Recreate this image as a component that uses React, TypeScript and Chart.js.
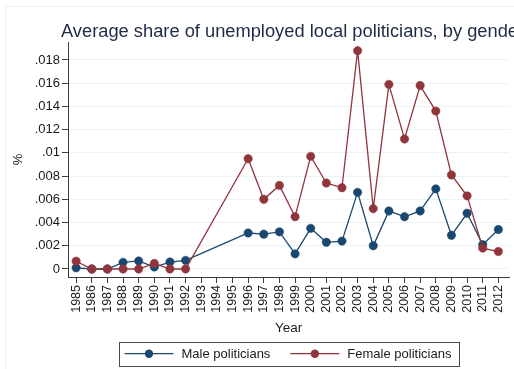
import React, { useEffect, useRef } from 'react';
import { Chart, registerables } from 'chart.js';

Chart.register(...registerables);

// ---- data ----
const TITLE = 'Average share of unemployed local politicians, by gender';
const X_TITLE = 'Year';
const Y_TITLE = '%';

const years = [
  1985, 1986, 1987, 1988, 1989, 1990, 1991, 1992, 1993, 1994, 1995, 1996, 1997, 1998,
  1999, 2000, 2001, 2002, 2003, 2004, 2005, 2006, 2007, 2008, 2009, 2010, 2011, 2012,
];

const maleShare = [
  0.0001, 0, 0, 0.00057, 0.00069, 0.00017, 0.0006, 0.00074, null, null, null, 0.0031, 0.003, 0.0032,
  0.0013, 0.0035, 0.0023, 0.0024, 0.0066, 0.002, 0.005, 0.0045, 0.005, 0.0069, 0.0029, 0.0048, 0.0021, 0.0034,
];

const femaleShare = [
  0.00067, 0, 0, 0, 0, 0.00048, 0, 0, null, null, null, 0.0095, 0.006, 0.0072,
  0.0045, 0.0097, 0.0074, 0.007, 0.0188, 0.0052, 0.0159, 0.0112, 0.0158, 0.0136, 0.0081, 0.0063, 0.0018, 0.0015,
];

const seriesNames = ['Male politicians', 'Female politicians'];

const yTicks = [0, 0.002, 0.004, 0.006, 0.008, 0.01, 0.012, 0.014, 0.016, 0.018];
const yTickLabels = ['0', '.002', '.004', '.006', '.008', '.01', '.012', '.014', '.016', '.018'];

// ---- styles ----
const FONT = '"Liberation Sans", Arial, Helvetica, sans-serif';
const NAVY = '#1a476f';
const MAROON = '#90353b';
const GRID = '#eaf2f3';
const AXIS = '#3c3c3c';
const TEXT = '#1a1a1a';
const W = 514;
const H = 369;

// light outer frame and white background
const framePlugin = {
  id: 'frame',
  beforeDraw(chart: any) {
    const { ctx, width, height } = chart;
    ctx.save();
    ctx.fillStyle = '#ffffff';
    ctx.fillRect(0, 0, width, height);
    ctx.strokeStyle = '#edf1f4';
    ctx.lineWidth = 1;
    ctx.strokeRect(5.5, 6.5, width + 20, height + 20);
    ctx.restore();
  },
};

// headline drawn from a fixed left edge so it runs off the right side
const headlinePlugin = {
  id: 'headline',
  afterDraw(chart: any) {
    const { ctx } = chart;
    ctx.save();
    ctx.font = `18.3px ${FONT}`;
    ctx.fillStyle = '#1e2b45';
    ctx.textAlign = 'left';
    ctx.textBaseline = 'alphabetic';
    ctx.fillText(TITLE, 61, 36.5);
    ctx.restore();
  },
};

// boxed legend: line sample with a marker in the middle, then the label
const boxLegendPlugin = {
  id: 'boxLegend',
  afterDraw(chart: any) {
    const { ctx, chartArea } = chart;
    const datasets = chart.data.datasets;
    const padL = 5;
    const padR = 8;
    const sample = 49;
    const gapText = 8;
    const gapItem = 20;
    const boxH = 24;
    const cy = 353.7;
    ctx.save();
    ctx.font = `13px ${FONT}`;
    const widths = datasets.map((d: any) => ctx.measureText(d.label).width);
    let total = padL + padR + gapItem * (datasets.length - 1);
    widths.forEach((w: number) => (total += sample + gapText + w));
    const cx = (chartArea.left + chartArea.right) / 2;
    const left = Math.round(cx - total / 2) + 0.5;
    ctx.strokeStyle = '#4a4a4a';
    ctx.lineWidth = 1;
    ctx.strokeRect(left, Math.round(cy - boxH / 2) + 0.5, Math.round(total), boxH);
    let x = left + padL;
    datasets.forEach((d: any, i: number) => {
      ctx.strokeStyle = d.borderColor;
      ctx.lineWidth = d.borderWidth;
      ctx.beginPath();
      ctx.moveTo(x, cy);
      ctx.lineTo(x + sample, cy);
      ctx.stroke();
      ctx.fillStyle = d.pointBackgroundColor;
      ctx.beginPath();
      ctx.arc(x + sample / 2, cy, d.pointRadius, 0, Math.PI * 2);
      ctx.fill();
      ctx.fillStyle = TEXT;
      ctx.textAlign = 'left';
      ctx.textBaseline = 'middle';
      ctx.fillText(d.label, x + sample + gapText, cy + 0.5);
      x += sample + gapText + widths[i] + gapItem;
    });
    ctx.restore();
  },
};

function toPoints(values: (number | null)[]) {
  return years.map((yr, i) => ({ x: yr, y: values[i] }));
}

export default function App() {
  const canvasRef = useRef<HTMLCanvasElement | null>(null);

  useEffect(() => {
    if (!canvasRef.current) return;
    const lineStyle = (color: string) => ({
      borderColor: color,
      backgroundColor: color,
      pointBackgroundColor: color,
      pointBorderColor: color,
      pointBorderWidth: 0.5,
      pointRadius: 4.2,
      borderWidth: 1.3,
      spanGaps: true,
      fill: false,
      tension: 0,
    });

    const chart = new Chart(canvasRef.current, {
      type: 'line',
      data: {
        datasets: [
          { label: seriesNames[0], data: toPoints(maleShare), order: 2, ...lineStyle(NAVY) },
          { label: seriesNames[1], data: toPoints(femaleShare), order: 1, ...lineStyle(MAROON) },
        ] as any,
      },
      options: {
        responsive: false,
        animation: false,
        devicePixelRatio: 1,
        layout: { padding: { top: 42, left: 0, right: 0, bottom: 0 } },
        plugins: {
          legend: { display: false },
          title: { display: false },
          tooltip: { enabled: false },
        },
        scales: {
          x: {
            type: 'linear',
            bounds: 'data',
            min: 1984.48,
            max: 2012.7,
            afterBuildTicks: (s: any) => {
              s.ticks = years.map((v) => ({ value: v }));
            },
            afterFit: (s: any) => {
              s.height = 92;
              s.paddingLeft = 0;
              s.paddingRight = 0;
            },
            ticks: {
              autoSkip: false,
              minRotation: 90,
              maxRotation: 90,
              padding: 2,
              color: TEXT,
              font: { family: FONT, size: 12.5 },
              callback: (v: any) => String(v),
            },
            grid: {
              drawOnChartArea: false,
              drawTicks: true,
              tickLength: 6,
              tickColor: AXIS,
              tickWidth: 1,
            },
            border: { display: true, color: AXIS, width: 1 },
            title: {
              display: true,
              text: X_TITLE,
              color: TEXT,
              font: { family: FONT, size: 13.5 },
              padding: { top: 0, bottom: 33 },
            },
          },
          y: {
            type: 'linear',
            bounds: 'data',
            min: -0.00069,
            max: 0.01955,
            afterBuildTicks: (s: any) => {
              s.ticks = yTicks.map((v) => ({ value: v }));
            },
            afterFit: (s: any) => {
              s.width = 68;
              s.paddingTop = 0;
              s.paddingBottom = 0;
            },
            ticks: {
              padding: 2,
              color: TEXT,
              font: { family: FONT, size: 13 },
              callback: (v: any) => {
                const i = yTicks.findIndex((t) => Math.abs(t - v) < 1e-9);
                return i >= 0 ? yTickLabels[i] : '';
              },
            },
            grid: {
              color: GRID,
              lineWidth: 1,
              drawTicks: true,
              tickLength: 6,
              tickColor: AXIS,
              tickWidth: 1,
            },
            border: { display: true, color: AXIS, width: 1 },
            title: {
              display: true,
              text: Y_TITLE,
              color: TEXT,
              font: { family: FONT, size: 13 },
              padding: { top: 11, bottom: 0 },
            },
          },
        },
      } as any,
      plugins: [framePlugin, headlinePlugin, boxLegendPlugin],
    });

    return () => chart.destroy();
  }, []);

  return (
    <div style={{ position: 'absolute', left: 0, top: 0, width: W, height: H, overflow: 'hidden' }}>
      <canvas ref={canvasRef} width={W} height={H} style={{ display: 'block' }} />
    </div>
  );
}
